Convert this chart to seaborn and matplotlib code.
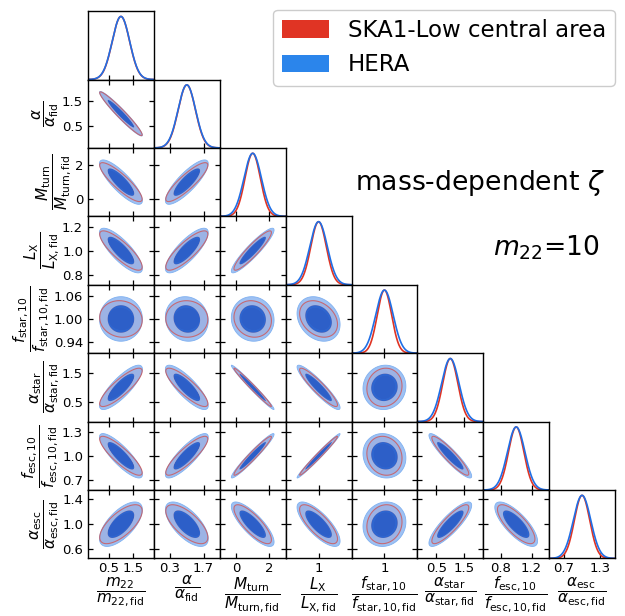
import numpy as np
import matplotlib
matplotlib.use("Agg")
import matplotlib.pyplot as plt
import seaborn as sns
from matplotlib.patches import Patch

sns.set_style("white")
plt.rcParams["font.family"] = ["DejaVu Sans"]
plt.rcParams["mathtext.fontset"] = "dejavusans"
for key in ("text.color", "axes.labelcolor", "xtick.color", "ytick.color", "axes.edgecolor"):
    plt.rcParams[key] = "black"

# ---- parameters (all normalised to their fiducial values) ----
params = ["m22", "alpha", "Mturn", "LX", "fstar10", "alphastar", "fesc10", "alphaesc"]
axis_labels = [
    r"$\dfrac{m_{22}}{m_{22,\mathrm{fid}}}$",
    r"$\dfrac{\alpha}{\alpha_{\mathrm{fid}}}$",
    r"$\dfrac{M_{\mathrm{turn}}}{M_{\mathrm{turn,fid}}}$",
    r"$\dfrac{L_{\mathrm{X}}}{L_{\mathrm{X,fid}}}$",
    r"$\dfrac{f_{\mathrm{star,10}}}{f_{\mathrm{star,10,fid}}}$",
    r"$\dfrac{\alpha_{\mathrm{star}}}{\alpha_{\mathrm{star,fid}}}$",
    r"$\dfrac{f_{\mathrm{esc,10}}}{f_{\mathrm{esc,10,fid}}}$",
    r"$\dfrac{\alpha_{\mathrm{esc}}}{\alpha_{\mathrm{esc,fid}}}$",
]
fiducial = [1.0, 1.0, 1.0, 1.0, 1.0, 1.0, 1.0, 1.0]

# marginalised 1-sigma errors
sigma_hera = [0.366, 0.367, 0.53, 0.076, 0.0234, 0.31, 0.114, 0.146]
sigma_ska = [0.362, 0.360, 0.465, 0.067, 0.0192, 0.268, 0.100, 0.128]

# correlation coefficients, lower triangle (row k holds corr with params 0..k-1)
corr_hera = [
    [],
    [-0.96],
    [-0.83, 0.83],
    [-0.80, 0.80, 0.92],
    [0.00, -0.08, -0.05, -0.25],
    [0.82, -0.82, -0.985, -0.92, 0.05],
    [-0.84, 0.84, 0.965, 0.985, -0.10, -0.92],
    [0.65, -0.65, -0.80, -0.76, 0.10, 0.85, -0.76],
]
corr_ska = [
    [],
    [-0.965],
    [-0.87, 0.87],
    [-0.83, 0.83, 0.92],
    [-0.08, -0.02, -0.10, -0.30],
    [0.85, -0.85, -0.985, -0.92, 0.08],
    [-0.86, 0.86, 0.965, 0.985, -0.12, -0.92],
    [0.68, -0.68, -0.80, -0.76, 0.12, 0.86, -0.76],
]

experiments = ["SKA1-Low central area", "HERA"]

# ---- axis ranges and ticks ----
half_range = [1.375, 1.38, 2.0, 0.285, 0.088, 1.17, 0.43, 0.55]
xticks = [[0.5, 1.5], [0.3, 1.7], [0, 2], [1], [1], [0.5, 1.5], [0.8, 1.2], [0.7, 1.3]]
xticklabels = [["0.5", "1.5"], ["0.3", "1.7"], ["0", "2"], ["1"], ["1"],
               ["0.5", "1.5"], ["0.8", "1.2"], ["0.7", "1.3"]]
yticks = [[], [0.5, 1.5], [0, 2], [0.8, 1.0, 1.2], [0.94, 1.00, 1.06],
          [0.5, 1.5], [0.7, 1.0, 1.3], [0.6, 1.0, 1.4]]
yticklabels = [[], ["0.5", "1.5"], ["0", "2"], ["0.8", "1.0", "1.2"],
               ["0.94", "1.00", "1.06"], ["0.5", "1.5"], ["0.7", "1.0", "1.3"],
               ["0.6", "1.0", "1.4"]]

SKA_LINE = "#E03424"
SKA_FILL = ["#D8443A", "#F2A89F"]      # inner, outer
HERA_LINE = "#1F6FE6"
HERA_FILL = ["#2261D2", "#8DB6F2"]     # inner, outer
HERA_LEG = "#2B85EB"
LEVELS = [0.0, 2.30, 5.99]             # delta chi^2 for 68% and 95% (2 dof)


def corr(table, a, b):
    if a == b:
        return 1.0
    hi, lo = max(a, b), min(a, b)
    return table[hi][lo]


def cov2(sig, table, a, b):
    r = corr(table, a, b)
    return np.array([[sig[a] ** 2, r * sig[a] * sig[b]],
                     [r * sig[a] * sig[b], sig[b] ** 2]])


def chi2_grid(X, Y, mu, cov):
    inv = np.linalg.inv(cov)
    dx, dy = X - mu[0], Y - mu[1]
    return inv[0, 0] * dx * dx + 2 * inv[0, 1] * dx * dy + inv[1, 1] * dy * dy


n = len(params)
lims = [(fiducial[k] - half_range[k], fiducial[k] + half_range[k]) for k in range(n)]

fig, axes = plt.subplots(n, n, figsize=(6.25, 6.16), dpi=100)
fig.subplots_adjust(left=0.1408, right=0.984, top=0.982, bottom=0.0935,
                    wspace=0, hspace=0)

for i in range(n):
    for j in range(n):
        ax = axes[i, j]
        if j > i:
            ax.set_visible(False)
            continue
        for s in ax.spines.values():
            s.set_linewidth(1.0)
            s.set_color("black")
        if i == j:
            xs = np.linspace(lims[j][0], lims[j][1], 400)
            for sig, col in ((sigma_ska, SKA_LINE), (sigma_hera, HERA_LINE)):
                ys = np.exp(-0.5 * ((xs - fiducial[j]) / sig[j]) ** 2)
                sns.lineplot(x=xs, y=ys, ax=ax, color=col, lw=1.2)
            ax.set_ylim(0, 1.085)
            ax.set_yticks([])
            ax.tick_params(direction="in", length=3.5, width=0.9, top=False,
                           right=False, left=False, bottom=True, labelsize=9.5)
        else:
            gx = np.linspace(lims[j][0], lims[j][1], 400)
            gy = np.linspace(lims[i][0], lims[i][1], 400)
            X, Y = np.meshgrid(gx, gy)
            mu = (fiducial[j], fiducial[i])
            c_s = chi2_grid(X, Y, mu, cov2(sigma_ska, corr_ska, j, i))
            c_h = chi2_grid(X, Y, mu, cov2(sigma_hera, corr_hera, j, i))
            ax.contourf(X, Y, c_s, levels=LEVELS, colors=[SKA_FILL[0], SKA_FILL[1]],
                        antialiased=True)
            ax.contourf(X, Y, c_h, levels=LEVELS[1:3], colors=[HERA_FILL[1]],
                        alpha=0.85, antialiased=True)
            ax.contourf(X, Y, c_h, levels=LEVELS[:2], colors=[HERA_FILL[0]],
                        alpha=0.94, antialiased=True)
            ax.contour(X, Y, c_h, levels=[LEVELS[2]], colors=["#7FB0F0"],
                       linewidths=0.6)
            ax.contour(X, Y, c_s, levels=[LEVELS[2]], colors=[SKA_LINE],
                       linewidths=0.8, alpha=0.6)
            ax.set_ylim(*lims[i])
            ax.set_yticks(yticks[i])
            ax.set_yticklabels(yticklabels[i])
            ax.tick_params(direction="in", length=3.5, width=0.9, top=True,
                           right=True, left=True, bottom=True, labelsize=9.5)
        ax.set_xlim(*lims[j])
        ax.set_xticks(xticks[j])
        ax.set_xticklabels(xticklabels[j])
        ax.set_xlabel("")
        ax.set_ylabel("")
        ax.tick_params(axis="x", pad=2.5)
        ax.tick_params(labelbottom=(i == n - 1), labelleft=(j == 0 and i > 0),
                       labeltop=False, labelright=False)
        if i == n - 1:
            ax.set_xlabel(axis_labels[j], fontsize=11, labelpad=0)
        if j == 0 and i > 0:
            ax.set_ylabel(axis_labels[i], fontsize=11, labelpad=1)

handles = [Patch(facecolor=SKA_LINE, edgecolor="none"),
           Patch(facecolor=HERA_LEG, edgecolor="none")]
fig.legend(handles, experiments, loc="upper right",
           bbox_to_anchor=(0.984, 0.984), borderaxespad=0.0, fontsize=16.5,
           handlelength=2.05, handleheight=0.8, framealpha=1.0)

fig.text(0.968, 0.703, r"mass-dependent $\zeta$", ha="right", va="center",
         fontsize=19.2)
fig.text(0.96, 0.597, r"$m_{22}$=10", ha="right", va="center", fontsize=19.2)

fig.savefig("out.png", dpi=100)
